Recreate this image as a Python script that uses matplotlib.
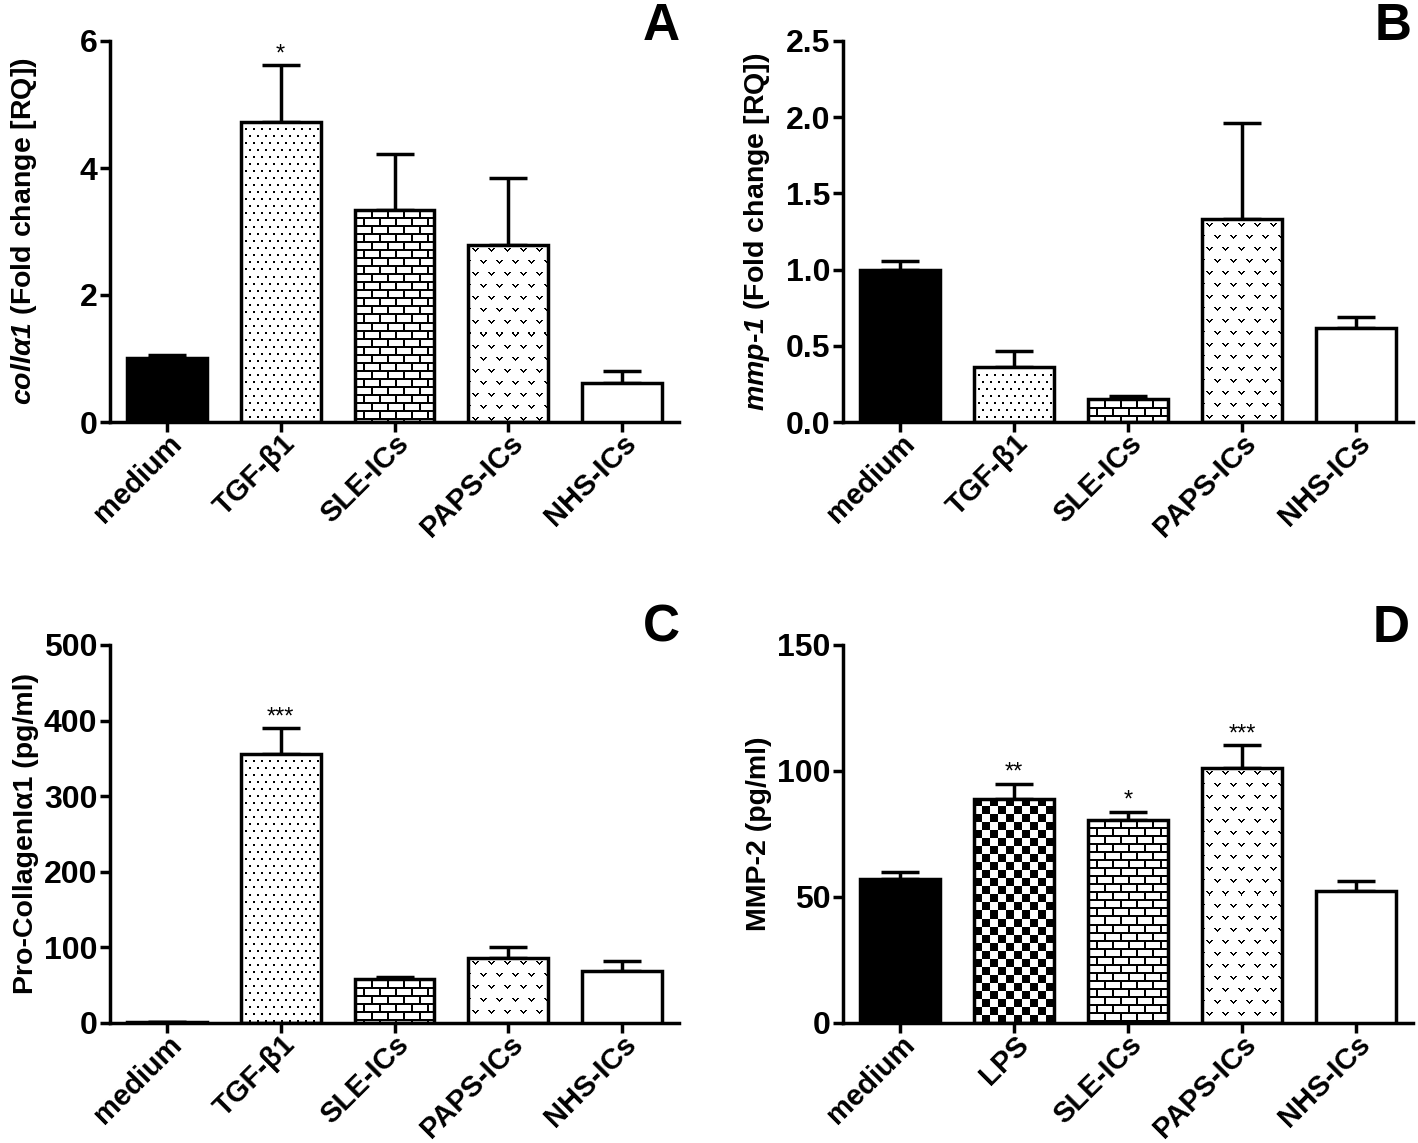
import numpy as np
import matplotlib.pyplot as plt
from matplotlib.transforms import ScaledTranslation

plt.rcParams['font.family'] = ['Liberation Sans', 'DejaVu Sans']
plt.rcParams['mathtext.fontset'] = 'custom'
plt.rcParams['mathtext.bfit'] = 'Liberation Sans:italic:bold'
plt.rcParams['mathtext.rm'] = 'Liberation Sans:bold'

# data (mean and top of the SEM bar)
cats_abc = ['medium', 'TGF-β1', 'SLE-ICs', 'PAPS-ICs', 'NHS-ICs']
cats_d = ['medium', 'LPS', 'SLE-ICs', 'PAPS-ICs', 'NHS-ICs']

coll_mean = [1.01, 4.73, 3.34, 2.79, 0.62]
coll_top = [1.06, 5.62, 4.22, 3.85, 0.81]

mmp1_mean = [1.00, 0.36, 0.148, 1.33, 0.617]
mmp1_top = [1.057, 0.464, 0.171, 1.96, 0.69]

procol_mean = [1.0, 356, 58, 86, 69]
procol_top = [1.0, 390, 60.5, 101, 81.5]

mmp2_mean = [57.3, 89.0, 80.7, 101.2, 52.5]
mmp2_top = [59.8, 94.9, 83.9, 110.3, 56.2]

stars_a = ['', '*', '', '', '']
stars_b = ['', '', '', '', '']
stars_c = ['', '***', '', '', '']
stars_d = ['', '**', '*', '***', '']

fills_abc = ['black', 'dots', 'brick', 'vee', 'white']
fills_d = ['black', 'check', 'brick', 'vee', 'white']

LW = 2.5
NARROW = ['Liberation Sans Narrow', 'Liberation Sans', 'DejaVu Sans']


def make_texture(kind, w, h):
    yy, xx = np.mgrid[0:h, 0:w]
    img = np.ones((h, w))
    if kind == 'dots':
        row = yy // 7
        c = (yy % 7 < 2) & (((xx + (row % 2) * 4) % 8) < 2)
        img[c] = 0
    elif kind == 'brick':
        row = yy // 8
        mh = yy % 8 < 2
        mv = (xx + (row % 2) * 8) % 16 < 2
        img[mh | mv] = 0
    elif kind == 'check':
        img[((yy // 8) + (xx // 8)) % 2 == 0] = 0
    elif kind == 'vee':
        row = yy // 12
        cx = (xx + (row % 2) * 8) % 16
        cy = yy % 12
        v = (((cy == 4) & ((cx == 4) | (cx == 5) | (cx == 9) | (cx == 10))) |
             ((cy == 5) & ((cx == 5) | (cx == 6) | (cx == 8) | (cx == 9))) |
             ((cy == 6) & ((cx == 6) | (cx == 7) | (cx == 8))) |
             ((cy == 7) & (cx == 7)))
        img[v] = 0
    return img


def draw_panel(ax, cats, means, tops, fills, stars, ymax, yticks, ylabels, ylabel):
    x = np.arange(len(cats))
    ax.set_xlim(-0.5, 4.5)
    ax.set_ylim(0, ymax)
    err = [np.zeros(len(means)), np.array(tops) - np.array(means)]
    ax.errorbar(x, means, yerr=err, fmt='none', ecolor='black',
                elinewidth=LW, capsize=14, capthick=LW, zorder=1)
    bars = ax.bar(x, means, width=0.7, edgecolor='black', linewidth=LW, zorder=3)
    for bar, f in zip(bars, fills):
        if f in ('black', 'white'):
            bar.set_facecolor(f)
            continue
        bar.set_facecolor('none')
        bb = bar.get_window_extent()
        w, h = int(round(bb.width)), int(round(bb.height))
        if h < 1:
            continue
        im = ax.imshow(make_texture(f, w, h), cmap='gray', vmin=0, vmax=1,
                       interpolation='nearest', aspect='auto', zorder=2,
                       extent=(bar.get_x(), bar.get_x() + bar.get_width(), 0, bar.get_height()))
        im.set_clip_path(bar)
    for xi, t, s in zip(x, tops, stars):
        if s:
            ax.annotate(s, (xi, t), xytext=(0, 0), textcoords='offset points',
                        ha='center', va='bottom', fontsize=17)
    ax.set_xlim(-0.5, 4.5)
    ax.set_ylim(0, ymax)
    ax.spines['top'].set_visible(False)
    ax.spines['right'].set_visible(False)
    ax.spines['left'].set_linewidth(LW)
    ax.spines['bottom'].set_linewidth(LW)
    ax.tick_params(width=LW, length=7)
    ax.set_xticks(x)
    ax.set_xticklabels(cats, rotation=45, ha='right', va='center',
                       rotation_mode='anchor', fontsize=21, fontweight='bold')
    ax.tick_params(axis='x', pad=9)
    shift = ScaledTranslation(0.10, 0.05, ax.figure.dpi_scale_trans)
    for lbl in ax.get_xticklabels():
        lbl.set_transform(lbl.get_transform() + shift)
    ax.set_yticks(yticks)
    ax.set_yticklabels(ylabels, fontsize=23, fontweight='bold', family=NARROW)
    ax.tick_params(axis='y', pad=2)
    ax.set_ylabel(ylabel, fontsize=20.5, fontweight='bold')
    ax.yaxis.set_label_coords(-0.125, 0.5)


fig = plt.figure(figsize=(14.18, 11.43), dpi=100)
ax_a = fig.add_axes([110 / 1418, 1 - 422 / 1143, 569 / 1418, 381 / 1143])
ax_b = fig.add_axes([843 / 1418, 1 - 422 / 1143, 570 / 1418, 381 / 1143])
ax_c = fig.add_axes([110 / 1418, 1 - 1023 / 1143, 569 / 1418, 378 / 1143])
ax_d = fig.add_axes([843 / 1418, 1 - 1023 / 1143, 570 / 1418, 378 / 1143])

draw_panel(ax_a, cats_abc, coll_mean, coll_top, fills_abc, stars_a, 6,
           [0, 2, 4, 6], ['0', '2', '4', '6'],
           r'$\mathbfit{coll\alpha1}$ (Fold change [RQ])')
draw_panel(ax_b, cats_abc, mmp1_mean, mmp1_top, fills_abc, stars_b, 2.5,
           [0, 0.5, 1.0, 1.5, 2.0, 2.5], ['0.0', '0.5', '1.0', '1.5', '2.0', '2.5'],
           r'$\mathbfit{mmp}$' + '-' + r'$\mathbfit{1}$ (Fold change [RQ])')
draw_panel(ax_c, cats_abc, procol_mean, procol_top, fills_abc, stars_c, 500,
           [0, 100, 200, 300, 400, 500], ['0', '100', '200', '300', '400', '500'],
           'Pro-CollagenIα1 (pg/ml)')
draw_panel(ax_d, cats_d, mmp2_mean, mmp2_top, fills_d, stars_d, 150,
           [0, 50, 100, 150], ['0', '50', '100', '150'],
           'MMP-2 (pg/ml)')

for letter, xr, yb in [('A', 680, 40), ('B', 1412, 40), ('C', 680, 642), ('D', 1410, 642)]:
    fig.text(xr / 1418, 1 - yb / 1143, letter, ha='right', va='baseline',
             fontsize=37, fontweight='bold')

fig.savefig('out.png', dpi=100)
